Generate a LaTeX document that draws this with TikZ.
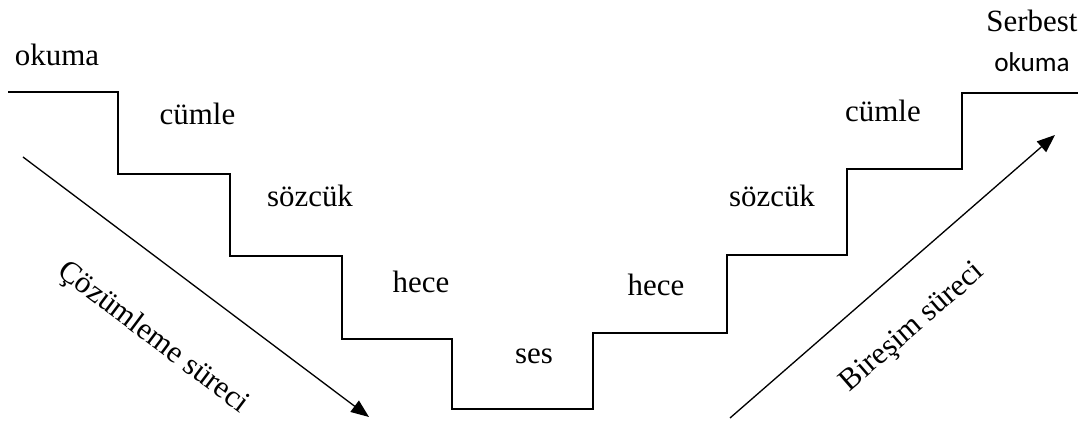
\documentclass[tikz,border=0pt]{standalone}
\usepackage{fontspec}
\setmainfont{Liberation Serif}
\newfontfamily\calibrifont{Carlito}
\usetikzlibrary{arrows.meta}

\begin{document}
\begin{tikzpicture}[x=0.02cm, y=0.02cm,
	word/.style={anchor=base, inner sep=0pt, font=\fontsize{17.6}{21}\selectfont},
	stair/.style={line width=1.1pt, line join=miter},
	pass/.style={line width=0.75pt, -{Triangle[length=0.36cm, width=0.28cm]}}]
			\useasboundingbox (0,0) rectangle (1088,423);
			
			\coordinate[](s0) at (8,331);
			\coordinate[](s1) at (118,249);
			\coordinate[](s2) at (230,167);
			\coordinate[](s3) at (342,84);
			\coordinate[](s4) at (452,14);
			\coordinate[](s5) at (593,90);
			\coordinate[](s6) at (727,168);
			\coordinate[](s7) at (847,254);
			\coordinate[](s8) at (962,330);
			\coordinate[](s9) at (1078,330);
			
			\draw[stair](s0) -| (s1) -| (s2) -| (s3) -| (s4) -| (s5) -| (s6) -| (s7) -| (s8) -- (s9);
			\draw[line width=1.6pt](495,14) -- (560,14);
			
			\node[word](okuma1) at (57,357) {okuma};
			\node[word](cumle1) at (197.5,298) {cümle};
			\node[word](sozcuk1) at (310,216) {sözcük};
			\node[word](hece1) at (421,131) {hece};
			\node[word](ses) at (534,60) {ses};
			\node[word](hece2) at (656,128) {hece};
			\node[word](sozcuk2) at (772,216) {sözcük};
			\node[word](cumle2) at (883,301) {cümle};
			\node[word](serbest) at (1032,391) {Serbest};
			\node[word, font=\calibrifont\fontsize{15.5}{19}\selectfont](okuma2) at (1032,351) {okuma};
			
			\coordinate[](a1) at (23,266);
			\coordinate[](a2) at (369,6);
			\coordinate[](b1) at (730,5);
			\coordinate[](b2) at (1055,288);
			
			\draw[pass](a1) -- (a2);
			\draw[pass](b1) -- (b2);
			
			\node[word, anchor=center, rotate=-37](cozum) at (153,85) {Çözümleme süreci};
			\node[word, anchor=center, rotate=41](biresim) at (913,95) {Bireşim süreci};
\end{tikzpicture}
\end{document}
